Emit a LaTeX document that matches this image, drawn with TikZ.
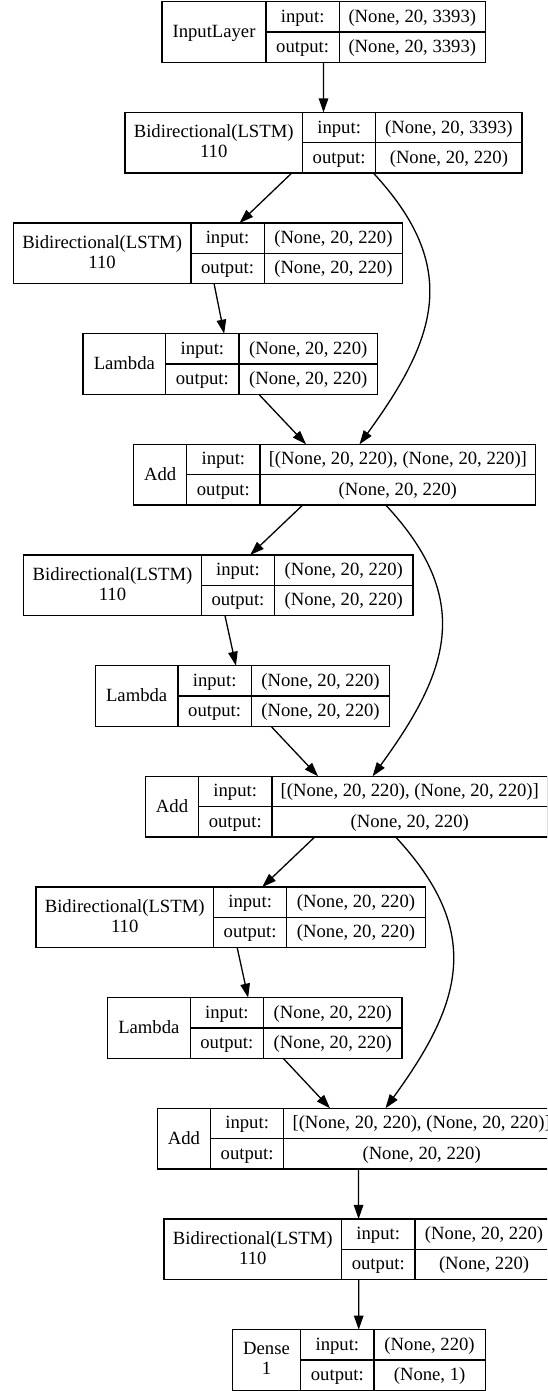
\documentclass[tikz,border=0pt]{standalone}
\usepackage{fontspec}
\setmainfont{Liberation Serif}
\usetikzlibrary{calc,arrows.meta}
\tikzset{
  box/.style={draw, line width=1.3pt, inner sep=0pt, outer sep=0pt, minimum height=60.6pt, anchor=north west},
  cell/.style={inner sep=0pt, anchor=base},
  arr/.style={line width=1.3pt, -{Triangle[length=14pt,width=9.5pt]}},
  divline/.style={line width=1.3pt},
}
\newcommand\rec[9]{%
  \pgfmathsetmacro\rW{#4+73.3+#5}%
  \node[box, minimum width=\rW pt] (#1) at (#2,#3) {};
  \draw[divline] ($(#1.north west)+(#4,0)$) -- ($(#1.south west)+(#4,0)$);
  \draw[divline] ($(#1.north west)+(#4+73.3,0)$) -- ($(#1.south west)+(#4+73.3,0)$);
  \draw[divline] ($(#1.west)+(#4,0)$) -- (#1.east);
  \if\relax\detokenize{#7}\relax
    \node[cell] (#1-name) at ($(#1.west)+(#4/2,5.5)$) {#6};
  \else
    \node[cell] (#1-name) at ($(#1.west)+(#4/2,-5)$) {#6};
    \node[cell] (#1-name2) at ($(#1.west)+(#4/2,15)$) {#7};
  \fi
  \node[cell] (#1-in) at ($(#1.north west)+(#4+36.65,20.65)$) {input:};
  \node[cell] (#1-out) at ($(#1.south west)+(#4+36.65,-9.65)$) {output:};
  \node[cell] (#1-inv) at ($(#1.north west)+(#4+73.3+#5/2,20.65)$) {#8};
  \node[cell] (#1-outv) at ($(#1.south west)+(#4+73.3+#5/2,-9.65)$) {#9};
}
\begin{document}
\begin{tikzpicture}[x=1pt,y=-1pt,font=\fontsize{18.67pt}{22.4pt}\selectfont]
\useasboundingbox (0,0) rectangle (547,1391);
\clip (0,0) rectangle (547,1391);
\rec{inl}{162}{1.7}{104}{146}{InputLayer}{}{(None, 20, 3393)}{(None, 20, 3393)}
\rec{b1}{124.9}{112.36}{177.6}{146.2}{Bidirectional(LSTM)}{110}{(None, 20, 3393)}{(None, 20, 220)}
\rec{b2}{13.3}{223.02}{177.6}{138.4}{Bidirectional(LSTM)}{110}{(None, 20, 220)}{(None, 20, 220)}
\rec{l1}{83}{333.68}{82.7}{138.5}{Lambda}{}{(None, 20, 220)}{(None, 20, 220)}
\rec{a1}{133.6}{444.34}{53.1}{275.7}{Add}{}{[(None, 20, 220), (None, 20, 220)]}{(None, 20, 220)}
\rec{b3}{23.7}{555}{177.6}{138.4}{Bidirectional(LSTM)}{110}{(None, 20, 220)}{(None, 20, 220)}
\rec{l2}{95.3}{665.66}{82.7}{138.5}{Lambda}{}{(None, 20, 220)}{(None, 20, 220)}
\rec{a2}{145.5}{776.32}{53.1}{275.7}{Add}{}{[(None, 20, 220), (None, 20, 220)]}{(None, 20, 220)}
\rec{b4}{35.9}{886.98}{177.6}{138.4}{Bidirectional(LSTM)}{110}{(None, 20, 220)}{(None, 20, 220)}
\rec{l3}{107.5}{997.64}{82.7}{138.5}{Lambda}{}{(None, 20, 220)}{(None, 20, 220)}
\rec{a3}{157.4}{1108.3}{53.1}{275.7}{Add}{}{[(None, 20, 220), (None, 20, 220)]}{(None, 20, 220)}
\rec{b5}{164}{1218.96}{177.6}{138.4}{Bidirectional(LSTM)}{110}{(None, 20, 220)}{(None, 220)}
\rec{d}{232.3}{1329.62}{68.4}{111.2}{Dense}{1}{(None, 220)}{(None, 1)}

\draw[arr] (inl) -- (b1);
\draw[arr] (b1) -- (b2);
\draw[arr] (b2) -- (l1);
\draw[arr] (l1) -- (a1);
\draw[arr] ($(b1.south)+(49.8,0)$) .. controls +(88.4,94.9) and +(76.7,-105.3) .. ($(a1.north)+(24.8,0)$);
\draw[arr] (a1) -- (b3);
\draw[arr] (b3) -- (l2);
\draw[arr] (l2) -- (a2);
\draw[arr] ($(a1.south)+(51,0)$) .. controls +(88.4,94.9) and +(76.7,-105.3) .. ($(a2.north)+(26,0)$);
\draw[arr] (a2) -- (b4);
\draw[arr] (b4) -- (l3);
\draw[arr] (l3) -- (a3);
\draw[arr] ($(a2.south)+(49,0)$) .. controls +(88.4,94.9) and +(76.7,-105.3) .. ($(a3.north)+(27,0)$);
\draw[arr] (a3) -- (b5);
\draw[arr] (b5) -- (d);
\end{tikzpicture}
\end{document}
